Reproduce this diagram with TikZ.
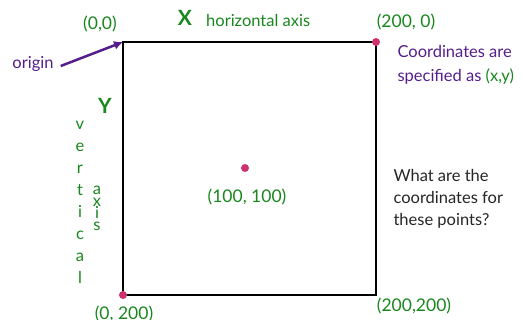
\documentclass[tikz,border=0pt]{standalone}
\usepackage{fontspec}
\setmainfont{Lato}
\usetikzlibrary{arrows.meta}
\definecolor{grn}{RGB}{25,135,30}
\definecolor{purp}{RGB}{85,30,140}
\definecolor{pnk}{RGB}{205,50,110}
\begin{document}
\begin{tikzpicture}[x=1pt,y=-1pt,font=\fontsize{16.5}{18}\selectfont,
  dot/.style={circle,fill=pnk,inner sep=0pt,minimum size=8pt},
  lbl/.style={text=grn,inner sep=1pt},
  num/.style={lbl,font=\fontsize{17.5}{18}\selectfont},
  ltr/.style={text=grn,inner sep=0pt,anchor=base}]
  \useasboundingbox (0,0) rectangle (523,320);
  % ctverec (rohy)
  \coordinate (o) at (123,42); \coordinate (tr) at (376,42);
  \coordinate (br) at (376,295); \coordinate (bl) at (123,295);
  \draw[line width=2pt] (o) -- (tr) -- (br) -- (bl) -- cycle;
  % body
  \node[dot] (ptr) at (tr) {}; \node[dot] (pbl) at (bl) {};
  \node[dot] (pmid) at (245,168) {};
  % popisky bodu
  \node[num] (l00) at (100,24) {(0,0)};
  \node[num] (l200) at (406,22) {(200, 0)};
  \node[num] (lmid) at (247,197) {(100, 100)};
  \node[num] (l0200) at (124,314) {(0, 200)};
  \node[num] (l200200) at (414,306) {(200,200)};
  % osy
  \node[lbl,font=\fontsize{21}{21}\bfseries] (X) at (185,18) {X};
  \node[lbl,anchor=west] (hax) at (205,20) {horizontal axis};
  \node[lbl,font=\fontsize{21}{21}\bfseries] (Y) at (105,106) {Y};
  \foreach \c [count=\i] in {v,e,r,t,i,c,a,l} {\node[ltr] (v\i) at (80,{108+22*\i}) {\c};}
  \foreach \c [count=\i] in {a,x,i,s} {\node[ltr] (a\i) at (97,{183+12*\i}) {\c};}
  % pocatek
  \node[text=purp,inner sep=1pt] (orig) at (33,64) {origin};
  \draw[purp,line width=2.5pt,-{Latex[length=9pt,width=9pt]}] (orig.east) ++(6,2) -- (o);
  % texty vpravo
  \node[text=purp,anchor=west,align=left,font=\fontsize{16.5}{24}\selectfont] (spec) at (394,65)
    {Coordinates are\\specified as \textcolor{grn}{(x,y)}};
  \node[text=black!85,anchor=west,align=left,font=\fontsize{16.5}{22}\selectfont] (q) at (390,199)
    {What are the\\coordinates for\\these points?};
\end{tikzpicture}
\end{document}
